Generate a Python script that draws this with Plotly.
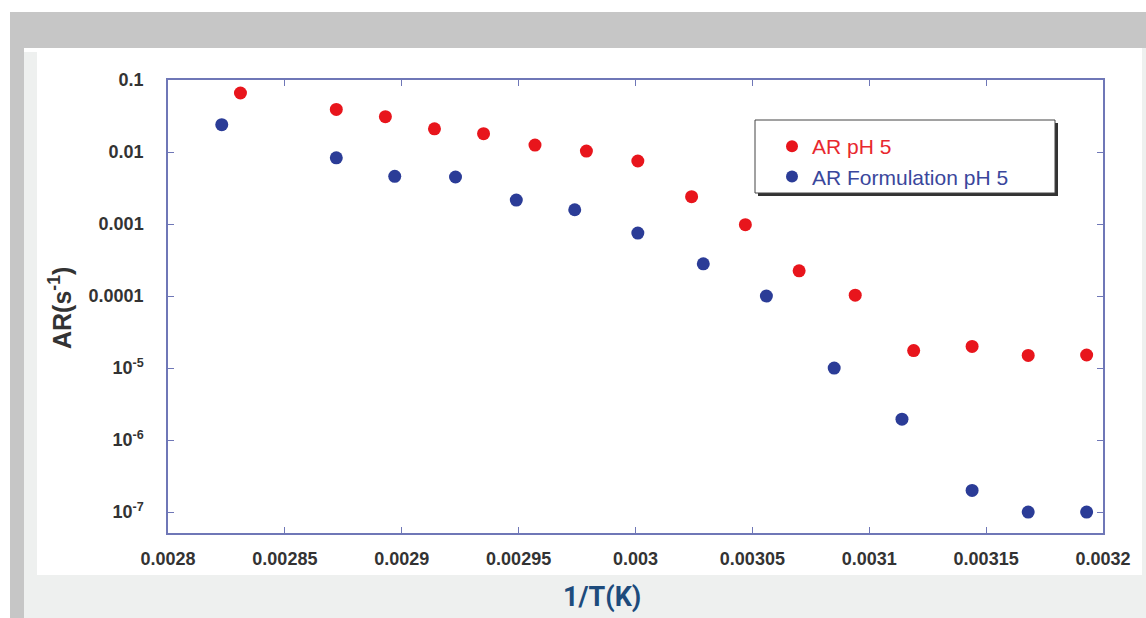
import plotly.graph_objects as go

# ---- data ----
x_ar = [0.002831, 0.002872, 0.002893, 0.002914, 0.002935, 0.002957, 0.002979, 0.003001,
        0.003024, 0.003047, 0.003070, 0.003094, 0.003119, 0.003144, 0.003168, 0.003193]
y_ar = [0.066, 0.039, 0.031, 0.021, 0.018, 0.0125, 0.0103, 0.0075,
        0.0024, 0.00098, 0.000224, 0.000103, 1.75e-5, 2.0e-5, 1.5e-5, 1.52e-5]

x_form = [0.002823, 0.002872, 0.002897, 0.002923, 0.002949, 0.002974, 0.003001,
          0.003029, 0.003056, 0.003085, 0.003114, 0.003144, 0.003168, 0.003193]
y_form = [0.024, 0.0083, 0.0046, 0.0045, 0.00215, 0.00158, 0.00075,
          0.00028, 0.0001, 1.0e-5, 1.95e-6, 2.0e-7, 1.0e-7, 1.0e-7]

x_ticks = [0.0028, 0.00285, 0.0029, 0.00295, 0.003, 0.00305, 0.0031, 0.00315, 0.0032]
x_ticktext = ["0.0028", "0.00285", "0.0029", "0.00295", "0.003", "0.00305", "0.0031", "0.00315", "0.0032"]
y_ticks = [1e-7, 1e-6, 1e-5, 1e-4, 1e-3, 1e-2, 1e-1]
y_ticktext = ["10<sup>-7</sup>", "10<sup>-6</sup>", "10<sup>-5</sup>", "0.0001", "0.001", "0.01", "0.1"]

names = ["AR pH 5", "AR Formulation pH 5"]

# ---- layout geometry (pixels) ----
W, H = 1146, 618
L, R, T, B = 168, 1103, 80, 533
PW, PH = R - L, B - T

def px(x):
    return (x - L) / PW

def py(y):
    return (B - y) / PH

RED = "#e8151c"
BLUE = "#2b3c97"
AXIS = "#6f77b7"
FONT = "Arial, Liberation Sans, sans-serif"

fig = go.Figure()
fig.add_trace(go.Scatter(
    x=x_ar, y=y_ar, mode="markers", name='<span style="color:#e8282e">%s</span>' % names[0],
    marker=dict(color=RED, size=13, line=dict(width=0))))
fig.add_trace(go.Scatter(
    x=x_form, y=y_form, mode="markers", name='<span style="color:#3a479c">%s</span>' % names[1],
    marker=dict(color=BLUE, size=13, line=dict(width=0))))

shapes = []
def rect(x0, y0, x1, y1, color, layer="below", line=None):
    d = dict(type="rect", xref="paper", yref="paper",
             x0=px(x0), x1=px(x1), y0=py(y1), y1=py(y0),
             fillcolor=color, layer=layer, line=line or dict(width=0))
    shapes.append(d)

# page background pieces
rect(10, 12, 1146, 48, "#c6c6c6")
rect(10, 12, 24, 618, "#c6c6c6")
rect(24, 52, 37, 618, "#eef0ef")
rect(24, 575, 1146, 618, "#eef0ef")
rect(1142, 48, 1146, 618, "#eef0ef")
rect(37, 48, 1142, 575, "#ffffff")

# legend box with shadow
rect(758, 123, 1058, 196, "#333333", layer="above")
rect(755, 120, 1055, 193, "#ffffff", layer="above", line=dict(color="#444444", width=1))

fig.update_layout(
    width=W, height=H,
    margin=dict(l=L, r=W - R, t=T, b=H - B),
    paper_bgcolor="#ffffff",
    plot_bgcolor="rgba(0,0,0,0)",
    shapes=shapes,
    font=dict(family=FONT, color="#333333"),
    showlegend=True,
    legend=dict(x=px(772), y=py(126), xanchor="left", yanchor="top",
                bgcolor="rgba(0,0,0,0)", borderwidth=0,
                font=dict(family=FONT, size=21), itemsizing="constant"),
    annotations=[
        dict(text="<b>1/T(K)</b>", xref="paper", yref="paper", x=px(602), y=py(597),
             xanchor="center", yanchor="middle", showarrow=False,
             font=dict(family="Roboto, Arial, sans-serif", size=27, color="#1d4b7c")),
        dict(text="<b>AR(s<sup>-1</sup>)</b>", xref="paper", yref="paper", x=px(60), y=py(308),
             xanchor="center", yanchor="middle", showarrow=False, textangle=-90,
             font=dict(family=FONT, size=25, color="#333333")),
    ],
)

fig.update_xaxes(
    range=[0.0028, 0.0032], tickvals=x_ticks, ticktext=x_ticktext,
    showgrid=False, zeroline=False, showline=True, linecolor=AXIS, linewidth=1.5,
    mirror="ticks", ticks="inside", ticklen=6, tickcolor=AXIS, tickwidth=1,
    tickfont=dict(family=FONT, size=18, color="#333333", weight="bold"),
    ticklabelstandoff=9,
)
fig.update_yaxes(
    type="log", range=[-7.29, -1], tickvals=y_ticks, ticktext=y_ticktext,
    showgrid=False, zeroline=False, showline=True, linecolor=AXIS, linewidth=1.5,
    mirror="ticks", ticks="inside", ticklen=6, tickcolor=AXIS, tickwidth=1,
    tickfont=dict(family=FONT, size=18, color="#333333", weight="bold"),
    ticklabelstandoff=19,
)

fig.write_html("out.html")
